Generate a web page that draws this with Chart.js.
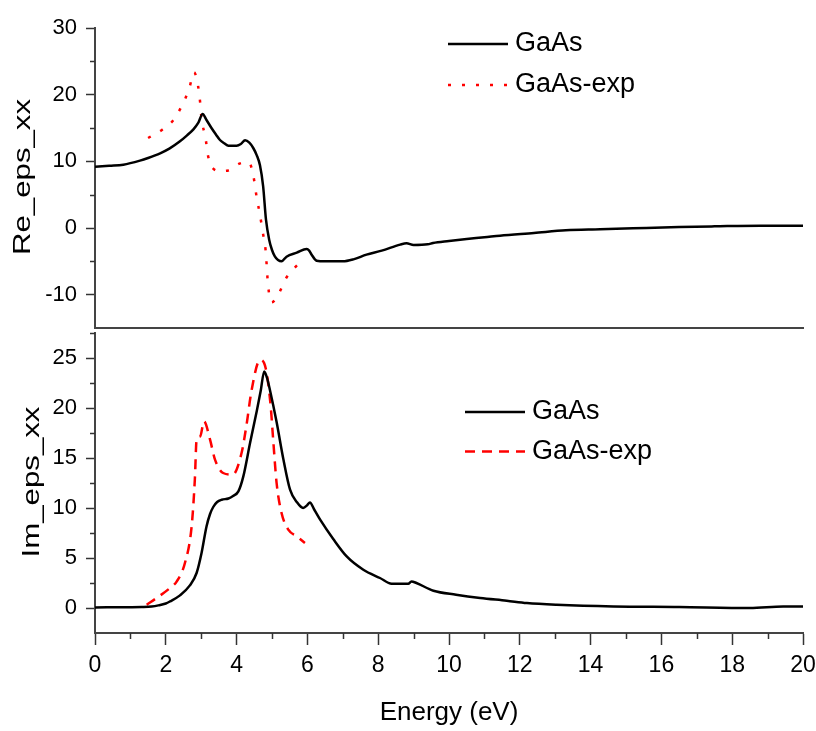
<!DOCTYPE html>
<html><head><meta charset="utf-8">
<script src="https://cdn.jsdelivr.net/npm/chart.js@4/dist/chart.umd.min.js"></script>
<style>
html,body{margin:0;padding:0;background:#fff;}
#wrap{position:relative;width:816px;height:731px;}
.layer{position:absolute;left:0;top:0;width:816px;height:731px;}
</style></head><body>
<div id="wrap">
<div class="layer"><canvas id="imChart"></canvas></div>
<div class="layer"><canvas id="reChart"></canvas></div>
</div>
<script>
// ---- tick labels ----
const energyTicks = [0, 2, 4, 6, 8, 10, 12, 14, 16, 18, 20];
const energyMinorTicks = [1, 3, 5, 7, 9, 11, 13, 15, 17, 19];
const reTicks = [-10, 0, 10, 20, 30];
const reMinorTicks = [-5, 5, 15, 25];
const imTicks = [0, 5, 10, 15, 20, 25];
const imMinorTicks = [2.5, 7.5, 12.5, 17.5, 22.5, 27.5];
const seriesNames = ['GaAs', 'GaAs-exp'];

// ---- Re_eps_xx ----
const reEnergy = [0, 0.4, 0.8, 1.27, 1.5, 1.84, 2.1, 2.4, 2.6, 2.78, 2.92, 3.04, 3.15, 3.29, 3.42, 3.53, 3.65, 3.77, 4.0, 4.12, 4.24, 4.36, 4.47, 4.57, 4.66, 4.75, 4.83, 4.92, 5.0, 5.08, 5.17, 5.27, 5.41, 5.7, 5.98, 6.05, 6.12, 6.26, 6.5, 7.0, 7.3, 7.67, 8.1, 8.62, 8.8, 9.0, 9.4, 9.55, 10.0, 10.5, 11.0, 11.44, 12.4, 13.3, 14.27, 15.2, 16.5, 17.5, 18.8, 20];
const reCalc = [9.2, 9.35, 9.5, 10.1, 10.5, 11.2, 11.9, 13.0, 13.9, 14.8, 15.8, 17.1, 16.2, 15.0, 14.0, 13.2, 12.7, 12.35, 12.35, 12.6, 13.15, 12.8, 12.0, 10.9, 9.4, 6.25, 1.25, -1.75, -3.3, -4.25, -4.8, -5.0, -4.3, -3.7, -3.15, -3.4, -4.0, -4.9, -5.0, -5.0, -4.7, -4.0, -3.4, -2.5, -2.3, -2.55, -2.45, -2.25, -1.95, -1.65, -1.4, -1.15, -0.75, -0.35, -0.2, -0.05, 0.15, 0.25, 0.35, 0.35];
const reExpEnergy = [1.5, 1.9, 2.2, 2.47, 2.66, 2.8, 2.91, 2.97, 3.01, 3.12, 3.19, 3.34, 3.55, 3.74, 4.08, 4.3, 4.4, 4.49, 4.57, 4.66, 4.74, 4.82, 4.89, 4.99, 5.2, 5.39, 5.68, 5.75];
const reExp = [13.5, 14.75, 16.1, 18.5, 20.9, 23.35, 21.35, 18.85, 16.35, 13.6, 10.9, 8.9, 8.55, 8.6, 9.65, 9.9, 9.4, 7.35, 4.5, 2.0, -0.65, -3.35, -8.65, -11.15, -9.75, -7.6, -5.75, -5.4];

// ---- Im_eps_xx ----
const imEnergy = [0, 1.0, 1.32, 1.6, 1.79, 2.0, 2.12, 2.4, 2.68, 2.87, 3.01, 3.15, 3.25, 3.34, 3.45, 3.58, 3.77, 3.9, 4.05, 4.19, 4.38, 4.57, 4.68, 4.78, 4.86, 4.94, 5.13, 5.32, 5.51, 5.7, 5.88, 6.0, 6.07, 6.2, 6.36, 6.73, 7.11, 7.58, 8.05, 8.38, 8.85, 8.94, 9.08, 9.56, 10.2, 10.88, 11.63, 12.2, 13.04, 14.64, 16.5, 18.5, 19.44, 20];
const imCalc = [0.06, 0.08, 0.1, 0.15, 0.26, 0.45, 0.66, 1.26, 2.26, 3.5, 5.5, 8.16, 9.4, 10.1, 10.6, 10.83, 10.95, 11.2, 11.66, 13.16, 16.5, 19.7, 21.7, 23.66, 23.0, 21.83, 18.6, 14.9, 11.83, 10.6, 10.0, 10.3, 10.56, 9.8, 8.83, 6.9, 5.16, 3.83, 3.0, 2.43, 2.43, 2.66, 2.5, 1.73, 1.33, 1.0, 0.73, 0.5, 0.33, 0.16, 0.1, 0.0, 0.16, 0.16];
const imExpEnergy = [1.46, 1.74, 2.12, 2.31, 2.54, 2.73, 2.82, 2.87, 2.97, 3.08, 3.25, 3.39, 3.62, 3.89, 4.14, 4.28, 4.42, 4.66, 4.82, 4.96, 5.03, 5.13, 5.27, 5.46, 5.7, 5.93];
const imExp = [0.33, 1.0, 2.0, 2.66, 4.5, 8.16, 12.83, 16.83, 17.16, 18.66, 16.83, 14.83, 13.5, 13.33, 15.5, 18.3, 21.7, 24.8, 24.0, 20.3, 17.0, 12.5, 9.5, 7.83, 7.16, 6.5];

const FONT = "'Liberation Sans', Arial, Helvetica, sans-serif";
const pts = (xs, ys) => xs.map((x, i) => ({x: x, y: ys[i]}));

const minorTicksPlugin = {
  id: 'minorTicks',
  afterDraw(chart, args, opts) {
    const ctx = chart.ctx;
    ctx.save();
    ctx.strokeStyle = opts.color;
    ctx.lineWidth = opts.width;
    const sy = chart.scales.y, sx = chart.scales.x;
    (opts.y || []).forEach(v => {
      const p = Math.round(sy.getPixelForValue(v)) + 0.5;
      ctx.beginPath(); ctx.moveTo(sy.right - opts.yLength, p); ctx.lineTo(sy.right, p); ctx.stroke();
    });
    (opts.x || []).forEach(v => {
      const p = Math.round(sx.getPixelForValue(v)) + 0.5;
      ctx.beginPath(); ctx.moveTo(p, sx.top); ctx.lineTo(p, sx.top + opts.xLength); ctx.stroke();
    });
    ctx.restore();
  }
};

const panelLegendPlugin = {
  id: 'panelLegend',
  afterDraw(chart, args, opts) {
    const ctx = chart.ctx;
    chart.data.datasets.forEach((ds, i) => {
      const y = opts.rows[i];
      ctx.save();
      ctx.strokeStyle = ds.borderColor;
      ctx.lineWidth = ds.borderWidth;
      ctx.setLineDash(ds.borderDash || []);
      ctx.beginPath(); ctx.moveTo(opts.x, y); ctx.lineTo(opts.x + opts.lineLength, y); ctx.stroke();
      ctx.setLineDash([]);
      ctx.fillStyle = '#000';
      ctx.font = opts.fontSize + 'px ' + FONT;
      ctx.textBaseline = 'middle';
      ctx.textAlign = 'left';
      ctx.fillText(ds.label, opts.textX, y);
      ctx.restore();
    });
  }
};

const stretchedYTitlePlugin = {
  id: 'stretchedYTitle',
  afterDraw(chart, args, opts) {
    const ctx = chart.ctx;
    const text = chart.scales.y.options.title.text;
    ctx.save();
    ctx.translate(opts.x, opts.y);
    ctx.rotate(-Math.PI / 2);
    ctx.scale(opts.stretch, 1);
    ctx.font = opts.fontSize + 'px ' + FONT;
    ctx.fillStyle = '#000';
    ctx.textAlign = 'center';
    ctx.textBaseline = 'alphabetic';
    ctx.fillText(text, 0, 0);
    ctx.restore();
  }
};

function makeChart(canvasId, cfg) {
  const isBottom = cfg.bottom;
  return new Chart(document.getElementById(canvasId), {
    type: 'line',
    data: {
      datasets: [
        {label: seriesNames[0], data: cfg.calc, borderColor: '#000000', borderWidth: 2.5,
         pointRadius: 0, fill: false, cubicInterpolationMode: 'monotone'},
        {label: seriesNames[1], data: cfg.exp, borderColor: '#ff0000', borderWidth: 2.5,
         borderDash: cfg.dash, borderCapStyle: 'butt', pointRadius: 0, fill: false, cubicInterpolationMode: 'monotone'}
      ]
    },
    options: {
      responsive: true,
      maintainAspectRatio: false,
      animation: false,
      devicePixelRatio: 1,
      layout: {padding: {left: 0, right: 13, top: cfg.padTop, bottom: cfg.padBottom}},
      plugins: {
        legend: {display: false},
        tooltip: {enabled: false},
        minorTicks: {y: cfg.minorY, x: isBottom ? energyMinorTicks : [], yLength: 5, xLength: 6, color: '#333', width: 1.5},
        panelLegend: cfg.legend,
        stretchedYTitle: cfg.yTitle
      },
      scales: {
        x: {
          type: 'linear', min: 0, max: 20,
          afterBuildTicks: s => { s.ticks = energyTicks.map(v => ({value: v})); },
          ticks: {display: isBottom, font: {family: FONT, size: 23}, color: '#000', padding: 7, maxRotation: 0, autoSkip: false},
          grid: {display: isBottom, drawOnChartArea: false, drawTicks: true, tickLength: 12, tickColor: '#333', tickWidth: 1.5},
          border: {display: true, color: '#444', width: 2},
          title: {display: isBottom, text: 'Energy (eV)', font: {family: FONT, size: 26}, color: '#000', padding: {top: 0, bottom: 3}},
          afterFit: s => { s.height = isBottom ? 98 : 0; s.paddingLeft = 0; s.paddingRight = 0; }
        },
        y: {
          type: 'linear', min: cfg.yMin, max: cfg.yMax,
          afterBuildTicks: s => { s.ticks = cfg.majorY.map(v => ({value: v})); },
          ticks: {font: {family: FONT, size: 22}, color: '#000', padding: 9},
          grid: {drawOnChartArea: false, drawTicks: true, tickLength: 9, tickColor: '#333', tickWidth: 1.5},
          border: {display: true, color: '#444', width: 2},
          title: {display: false, text: cfg.yTitleText},
          afterFit: s => { s.width = 95; s.paddingTop = 0; s.paddingBottom = 0; }
        }
      }
    },
    plugins: [minorTicksPlugin, panelLegendPlugin, stretchedYTitlePlugin]
  });
}

makeChart('reChart', {
  bottom: false,
  calc: pts(reEnergy, reCalc),
  exp: pts(reExpEnergy, reExp),
  dash: [3, 11],
  padTop: 28, padBottom: 403,
  yMin: -15, yMax: 30, majorY: reTicks, minorY: reMinorTicks,
  yTitleText: 'Re_eps_xx',
  yTitle: {x: 30, y: 177, stretch: 1.3, fontSize: 24},
  legend: {x: 448, lineLength: 60, textX: 515, rows: [44, 85], fontSize: 27}
});

makeChart('imChart', {
  bottom: true,
  calc: pts(imEnergy, imCalc),
  exp: pts(imExpEnergy, imExp),
  dash: [10, 7],
  padTop: 333, padBottom: 0,
  yMin: -2.5, yMax: 27.5, majorY: imTicks, minorY: imMinorTicks,
  yTitleText: 'Im_eps_xx',
  yTitle: {x: 38.5, y: 482, stretch: 1.3, fontSize: 24},
  legend: {x: 465, lineLength: 60, textX: 532, rows: [412, 451.5], fontSize: 27}
});
</script>
</body></html>
